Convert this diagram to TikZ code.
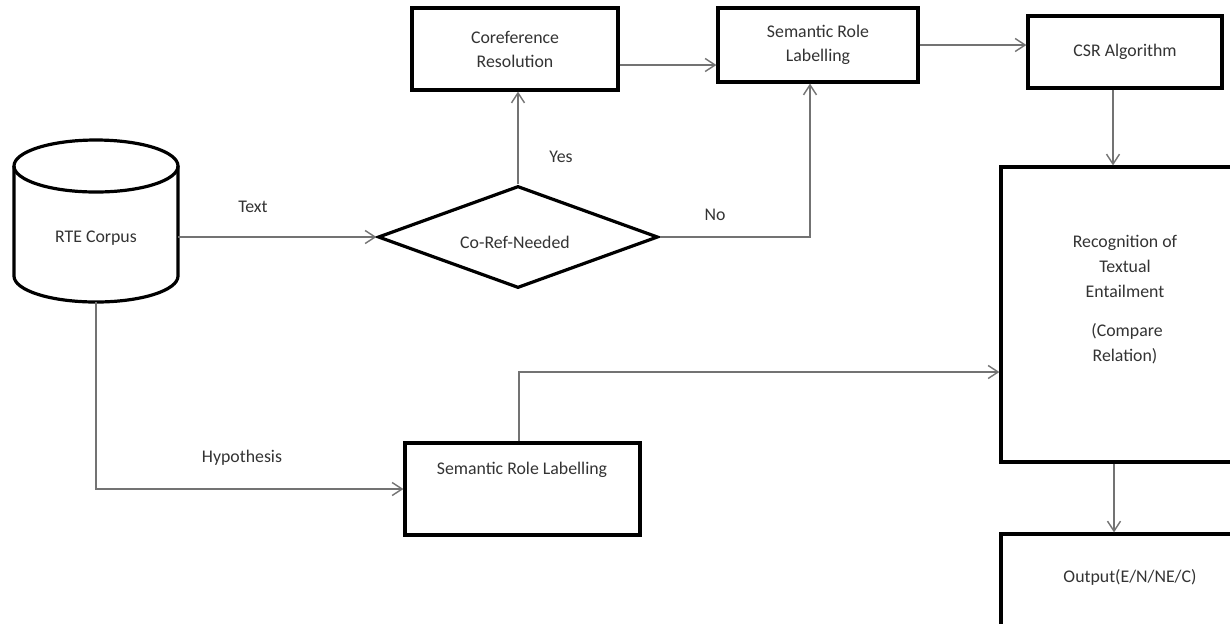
\documentclass[tikz,border=0pt]{standalone}
\usepackage{fontspec}
\setmainfont{Carlito}
\usetikzlibrary{shapes.geometric,arrows.meta,calc}
\begin{document}
\begin{tikzpicture}[x=0.5pt,y=-0.5pt,
  box/.style={draw=black,line width=1.6pt,rectangle,inner sep=0pt,align=center,text=black!80,font=\fontsize{8.9}{12}\selectfont},
  txt/.style={text=black!80,font=\fontsize{8.9}{12.5}\selectfont,inner sep=0pt,align=center},
  arr/.style={draw=black!55,line width=0.7pt,-{Straight Barb[length=5pt,width=6.5pt]}},
  cyl/.style={draw=black,line width=1.6pt}]
\useasboundingbox (0,0) rectangle (1230,623);
\clip (0,0) rectangle (1230,623);
\fill[white] (0,0) rectangle (1230,623);

% cylinder
\draw[cyl] (14,166) -- (14,276) arc[start angle=180,end angle=360,x radius=41pt,y radius=13pt] -- (178,166);
\draw[cyl] (96,166) ellipse[x radius=41pt,y radius=13pt];
\node[txt,minimum width=82pt,minimum height=64pt] (corpus) at (96,238) {RTE Corpus};

% decision
\node[draw=black,line width=1.6pt,diamond,aspect=2.745,minimum width=140pt,minimum height=51pt,txt] (dia) at (518,237) {};
\node[txt] (diatext) at (515,242) {Co-Ref-Needed};

% boxes
\node[box,minimum width=103pt,minimum height=41pt] (coref) at (515,49) {Coreference\\Resolution};
\node[box,minimum width=100pt,minimum height=37pt] (srl1) at (818,45) {Semantic Role\\Labelling};
\node[box,minimum width=97pt,minimum height=36pt] (csr) at (1125,52) {CSR Algorithm};
\node[box,minimum width=124pt,minimum height=147.5pt] (rte) at (1125,314.5) {};
\node[txt] (rtetext) at (1125,300) {Recognition of\\Textual\\Entailment\\[7pt]\ (Compare\\Relation)};
\node[box,minimum width=124pt,minimum height=48pt] (output) at (1125,582) {};
\node[txt] (outtext) at (1130,577) {Output(E/N/NE/C)};
\node[box,minimum width=117.5pt,minimum height=46pt] (srl2) at (522.5,489) {};
\node[txt] (srl2text) at (522,470) {Semantic Role Labelling};

% labels
\node[txt] (ltext) at (253,207) {Text};
\node[txt] (lyes) at (561,157) {Yes};
\node[txt] (lno) at (715,215) {No};
\node[txt] (lhyp) at (242,458) {Hypothesis};

% connectors
\draw[arr] (corpus.east |- dia.west) -- (dia.west);
\draw[arr] (dia.north) -- (dia.north |- coref.south);
\coordinate (c1) at ([yshift=-8pt]coref.east);
\draw[arr] (c1) -- (c1 -| srl1.west);
\coordinate (c2) at ([xshift=-4pt]srl1.south);
\draw[arr] (dia.east) -| (c2);
\draw[arr] (srl1.east) -- (srl1.east -| csr.west);
\coordinate (c3) at ([xshift=-6pt]csr.south);
\draw[arr] (c3) -- (c3 |- rte.north);
\coordinate (c4) at ([xshift=-5.5pt]rte.south);
\draw[arr] (c4) -- (c4 |- output.north);
\draw[arr] (corpus.south) |- (srl2.west);
\coordinate (c5) at ([yshift=-28.75pt]rte.west);
\coordinate (c6) at ([xshift=-1.75pt]srl2.north);
\draw[arr] (c6) |- (c5);
\end{tikzpicture}
\end{document}
